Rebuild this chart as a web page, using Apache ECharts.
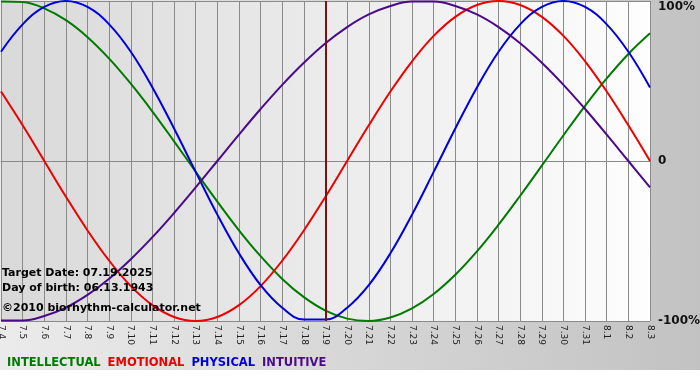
<!DOCTYPE html>
<html>
<head>
<meta charset="utf-8">
<script src="https://cdn.jsdelivr.net/npm/echarts@6/dist/echarts.min.js"></script>
<style>
  html, body { margin: 0; padding: 0; background: #fff; }
  #chart {
    width: 700px; height: 380px;
    background: linear-gradient(to right, #ebebeb, #c2c2c2) 0 0 / 100% 370px no-repeat, #ffffff;
  }
</style>
</head>
<body>
<div id="chart"></div>
<script>
// days shown on the x axis (month.day)
var days = ['7.4', '7.5', '7.6', '7.7', '7.8', '7.9', '7.10', '7.11', '7.12', '7.13',
  '7.14', '7.15', '7.16', '7.17', '7.18', '7.19', '7.20', '7.21', '7.22', '7.23',
  '7.24', '7.25', '7.26', '7.27', '7.28', '7.29', '7.30', '7.31', '8.1', '8.2', '8.3'];

// cycle values in percent
var intellectual = [99.7, 99.3, 95.4, 88.0, 77.4, 64.0, 48.3, 30.9, 12.3, -6.7, -25.4,
  -43.3, -59.5, -73.7, -85.1, -93.5, -98.5, -100, -97.8, -92.1, -83.1, -71.1, -56.5,
  -39.8, -21.7, -2.9, 16.1, 34.5, 51.6, 66.9, 79.8];
var emotional = [43.4, 22.3, 0, -22.3, -43.4, -62.3, -78.2, -90.1, -97.5, -100, -97.5,
  -90.1, -78.2, -62.3, -43.4, -22.3, 0, 22.3, 43.4, 62.3, 78.2, 90.1, 97.5, 100, 97.5,
  90.1, 78.2, 62.3, 43.4, 22.3, 0];
var physical = [68.3, 85.4, 96.3, 100, 96.3, 85.4, 68.3, 46.0, 20.3, -6.8, -33.5, -57.7,
  -77.6, -91.7, -99.1, -99.1, -91.7, -77.6, -57.7, -33.5, -6.8, 20.3, 46.0, 68.3, 85.4,
  96.3, 100, 96.3, 85.4, 68.3, 46.0];
var intuitive = [-99.7, -99.7, -96.9, -91.6, -83.7, -73.6, -61.4, -47.6, -32.5, -16.5, 0,
  16.5, 32.5, 47.6, 61.4, 73.6, 83.7, 91.6, 96.9, 99.7, 99.7, 96.9, 91.6, 83.7, 73.6,
  61.4, 47.6, 32.5, 16.5, 0, -16.5];

var targetDay = '7.19';

var chart = echarts.init(document.getElementById('chart'));

var boldFont = 'DejaVu Sans';

function cycle(name, data, color) {
  return {
    name: name,
    type: 'line',
    data: data,
    smooth: 0.4,
    showSymbol: false,
    lineStyle: { color: color, width: 2 },
    itemStyle: { color: color },
    z: 3
  };
}

var series = [
  cycle('INTELLECTUAL', intellectual, '#007a00'),
  cycle('EMOTIONAL', emotional, '#ee0000'),
  cycle('PHYSICAL', physical, '#0000dd'),
  cycle('INTUITIVE', intuitive, '#4b0a8a')
];
series[0].markLine = {
  silent: true,
  symbol: 'none',
  label: { show: false },
  lineStyle: { color: '#7a1212', width: 2, type: 'solid' },
  data: [{ xAxis: targetDay }]
};

var option = {
  animation: false,
  grid: {
    left: 1, right: 50, top: 1, bottom: 59,
    outerBoundsMode: 'none',
    show: true,
    borderWidth: 0,
    backgroundColor: {
      type: 'linear', x: 0, y: 0, x2: 1, y2: 0,
      colorStops: [{ offset: 0, color: '#d9d9d9' }, { offset: 1, color: '#fdfdfd' }]
    }
  },
  xAxis: {
    type: 'category',
    data: days,
    boundaryGap: false,
    axisLine: { lineStyle: { color: '#888', width: 1 } },
    axisTick: { show: true, interval: 0, length: 4, lineStyle: { color: '#888' } },
    splitLine: { show: true, interval: 0, lineStyle: { color: '#8a8a8a', width: 1 } },
    axisLabel: {
      interval: 0, rotate: -90, margin: 4,
      fontFamily: 'DejaVu Sans', fontSize: 9, color: '#222'
    }
  },
  yAxis: {
    type: 'value',
    position: 'right',
    min: -100, max: 100, interval: 100,
    axisLine: { show: false },
    axisTick: { show: false },
    splitLine: { show: true, lineStyle: { color: '#8a8a8a', width: 1 } },
    axisLabel: {
      margin: 8,
      fontFamily: boldFont, fontWeight: 'bold', fontSize: 12, color: '#111',
      formatter: function (v) {
        if (v === 100) return '{top|100%}';
        return v === 0 ? '0' : v + '%';
      },
      rich: {
        top: { padding: [12, 0, 0, 0], fontFamily: boldFont, fontWeight: 'bold', fontSize: 12, color: '#111' }
      }
    }
  },
  legend: {
    left: 2, top: 356,
    padding: 0,
    icon: 'none',
    itemWidth: 0, itemGap: 2,
    selectedMode: false,
    textStyle: { fontFamily: boldFont, fontWeight: 'bold', fontSize: 11.5 },
    data: [
      { name: 'INTELLECTUAL', textStyle: { color: '#007a00' } },
      { name: 'EMOTIONAL', textStyle: { color: '#ee0000' } },
      { name: 'PHYSICAL', textStyle: { color: '#0000dd' } },
      { name: 'INTUITIVE', textStyle: { color: '#4b0a8a' } }
    ]
  },
  graphic: [
    { type: 'text', left: 2, top: 268, z: 10,
      style: { text: 'Target Date: 07.19.2025', fill: '#000', font: 'bold 11px "DejaVu Sans"' } },
    { type: 'text', left: 2, top: 283, z: 10,
      style: { text: 'Day of birth: 06.13.1943', fill: '#000', font: 'bold 11px "DejaVu Sans"' } },
    { type: 'text', left: 2, top: 303, z: 10,
      style: { text: '\u00a92010 biorhythm-calculator.net', fill: '#000', font: 'bold 11px "DejaVu Sans"' } }
  ],
  series: series
};

chart.setOption(option);
</script>
</body>
</html>
